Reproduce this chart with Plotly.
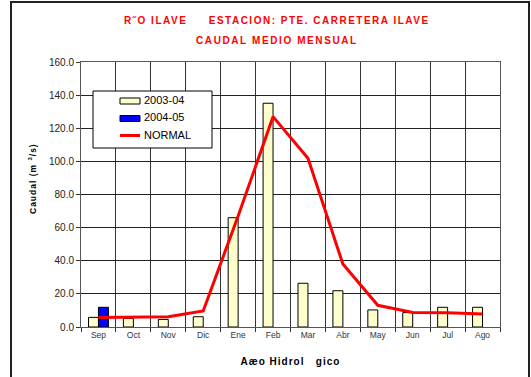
import plotly.graph_objects as go

# Monthly mean discharge, hydrological year Sep-Aug
meses = ["Sep", "Oct", "Nov", "Dic", "Ene", "Feb", "Mar", "Abr", "May", "Jun", "Jul", "Ago"]
caudal_2003_04 = [5.8, 5.2, 4.6, 6.2, 66.0, 135.1, 26.4, 21.9, 10.3, 8.7, 11.9, 11.9]
caudal_2004_05 = [11.9, None, None, None, None, None, None, None, None, None, None, None]
caudal_normal = [5.8, 5.8, 6.2, 9.7, 67.0, 127.0, 101.9, 38.0, 13.1, 8.7, 8.6, 7.9]
y_ticks = [0, 20, 40, 60, 80, 100, 120, 140, 160]

COL_0304 = "#FFFFCC"
COL_0405 = "#0000FF"
COL_NORMAL = "#FF0000"

fig = go.Figure()
fig.add_trace(go.Bar(
    x=meses, y=caudal_2003_04, name="2003-04",
    marker=dict(color=COL_0304, line=dict(color="black", width=1)),
))
fig.add_trace(go.Bar(
    x=meses, y=caudal_2004_05, name="2004-05",
    marker=dict(color=COL_0405, line=dict(color="black", width=1)),
))
fig.add_trace(go.Scatter(
    x=meses, y=caudal_normal, name="NORMAL", mode="lines",
    line=dict(color=COL_NORMAL, width=3),
))

# plot area in pixels: x 81..500, y 62..327
L, R, T, B = 81, 500, 62, 327
W, H = 531, 377
pw, ph = R - L, B - T

def px_x(v):
    return (v - L) / pw

def px_y(v):
    return (B - v) / ph

def spaced(text, sp):
    return f'<span style="letter-spacing:{sp}px">{text}</span>'

# boxed legend with wide swatches
legend_shapes = [
    dict(type="rect", xref="paper", yref="paper",
         x0=px_x(93), x1=px_x(212), y0=px_y(148), y1=px_y(91),
         line=dict(color="black", width=1), fillcolor="white", layer="above"),
    dict(type="rect", xref="paper", yref="paper",
         x0=px_x(120), x1=px_x(140), y0=px_y(104), y1=px_y(98),
         line=dict(color="black", width=1), fillcolor=COL_0304, layer="above"),
    dict(type="rect", xref="paper", yref="paper",
         x0=px_x(120), x1=px_x(140), y0=px_y(121.5), y1=px_y(115.5),
         line=dict(color="black", width=1), fillcolor=COL_0405, layer="above"),
    dict(type="line", xref="paper", yref="paper",
         x0=px_x(120), x1=px_x(140), y0=px_y(135.5), y1=px_y(135.5),
         line=dict(color=COL_NORMAL, width=3), layer="above"),
]
legend_labels = [("2003-04", 99.5), ("2004-05", 117), ("NORMAL", 134.5)]
legend_annotations = [
    dict(text=t, xref="paper", yref="paper", x=px_x(141.5), y=px_y(yy),
         xanchor="left", yanchor="middle", showarrow=False,
         font=dict(size=11, color="black"))
    for t, yy in legend_labels
]

fig.update_layout(
    width=W, height=H,
    margin=dict(l=L, r=W - R, t=T, b=H - B),
    paper_bgcolor="white", plot_bgcolor="white",
    barmode="group", bargap=0.43, bargroupgap=0,
    font=dict(family="Arial, Liberation Sans, sans-serif", size=9, color="black"),
    showlegend=False,
    xaxis=dict(
        type="category", tickson="boundaries", showgrid=True,
        gridcolor="#333333", gridwidth=1,
        ticks="outside", ticklen=4, tickcolor="#333333",
        showline=True, linecolor="#555555", linewidth=1, mirror=True,
        tickfont=dict(size=8.5, color="#333333"),
        title=dict(text="<b>" + spaced("Aæo Hidrol   gico", 1.0) + "</b>",
                   font=dict(size=10, color="black"), standoff=18),
    ),
    yaxis=dict(
        range=[0, 160], tickvals=y_ticks, tickformat=".1f",
        showgrid=True, gridcolor="#222222", gridwidth=1,
        ticks="outside", ticklen=4, tickcolor="#333333",
        showline=True, linecolor="#555555", linewidth=1, mirror=True,
        tickfont=dict(size=10, color="#222222"),
        zeroline=False,
    ),
    annotations=[
        dict(text="<b>" + spaced("R˝O ILAVE     ESTACION: PTE. CARRETERA ILAVE", 1.5) + "</b>",
             xref="paper", yref="paper", x=px_x(277), y=px_y(20),
             xanchor="center", yanchor="middle", showarrow=False,
             font=dict(size=10, color="#FF0000")),
        dict(text="<b>" + spaced("CAUDAL MEDIO MENSUAL", 1.6) + "</b>",
             xref="paper", yref="paper", x=px_x(277), y=px_y(40),
             xanchor="center", yanchor="middle", showarrow=False,
             font=dict(size=10, color="#FF0000")),
        dict(text="<b>" + spaced("Caudal (m <sup>3</sup>/s)", 1.0) + "</b>",
             xref="paper", yref="paper", x=px_x(32), y=px_y(179),
             xanchor="center", yanchor="middle", showarrow=False, textangle=-90,
             font=dict(size=8.5, color="black")),
    ] + legend_annotations,
    shapes=[
        dict(type="rect", xref="paper", yref="paper",
             x0=px_x(11), x1=px_x(529), y0=px_y(390), y1=px_y(2),
             line=dict(color="#222222", width=2), fillcolor="rgba(0,0,0,0)",
             layer="below"),
    ] + legend_shapes,
)

fig.write_html("out.html")
